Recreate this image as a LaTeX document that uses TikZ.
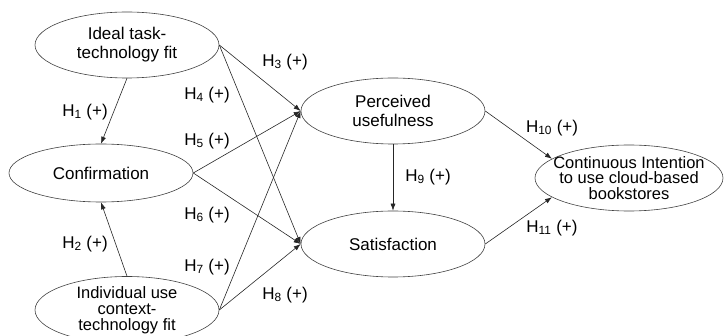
\documentclass[tikz,border=0pt]{standalone}
\usepackage{fontspec}
\setmainfont{Liberation Sans}
\usetikzlibrary{shapes.geometric,arrows.meta}

\begin{document}
\begin{tikzpicture}[
    x=1pt, y=-1pt,
    construct/.style={ellipse, draw=black!75, line width=0.6pt, inner sep=0pt,
                  minimum width=184pt, minimum height=66pt, align=center,
                  font=\fontsize{17pt}{19pt}\selectfont},
    line/.style={draw=black!85, line width=0.6pt, -{Latex[length=7pt,width=5pt]}},
    hyp/.style={font=\fontsize{17pt}{19pt}\selectfont}
]
\useasboundingbox (0,0) rectangle (725,336);

% Constructs
\node [construct] (ideal) at (127,45) {Ideal task-\\technology fit};
\node [construct, minimum height=58pt] (conf) at (101,173) {Confirmation};
\node [construct, font=\fontsize{16.5pt}{16pt}\selectfont] (indiv) at (127,310) {Individual use\\context-\\technology fit};
\node [construct] (perc) at (393,111) {Perceived\\usefulness};
\node [construct] (sat) at (393,244) {Satisfaction};
\node [construct, minimum width=188pt, font=\fontsize{16.5pt}{15.5pt}\selectfont] (cont) at (629,178)
    {\makebox[0pt]{Continuous Intention}\\\makebox[0pt]{to use cloud-based}\\bookstores};

% Hypotheses
\draw [line] (ideal.south) -- (conf.north);
\draw [line] (indiv.north) -- (conf.south);
\draw [line] (ideal.east) -- (perc.west);
\draw [line] (ideal.east) -- (sat.west);
\draw [line] (conf.east) -- (perc.west);
\draw [line] (conf.east) -- (sat.west);
\draw [line] (indiv.east) -- (perc.west);
\draw [line] (indiv.east) -- (sat.west);
\draw [line] (perc.south) -- (sat.north);
\draw [line] (perc.east) -- (cont.166);
\draw [line] (sat.east) -- (cont.194);

% Path labels
\node [hyp] (h1) at (85,112) {H\textsubscript{1} (+)};
\node [hyp] (h2) at (85,244) {H\textsubscript{2} (+)};
\node [hyp] (h3) at (285,62) {H\textsubscript{3} (+)};
\node [hyp] (h4) at (207,95) {H\textsubscript{4} (+)};
\node [hyp] (h5) at (207,141) {H\textsubscript{5} (+)};
\node [hyp] (h6) at (207,215) {H\textsubscript{6} (+)};
\node [hyp] (h7) at (207,267) {H\textsubscript{7} (+)};
\node [hyp] (h8) at (285,295) {H\textsubscript{8} (+)};
\node [hyp] (h9) at (428,177) {H\textsubscript{9} (+)};
\node [hyp] (h10) at (552,128) {H\textsubscript{10} (+)};
\node [hyp] (h11) at (552,228) {H\textsubscript{11} (+)};

\end{tikzpicture}
\end{document}
